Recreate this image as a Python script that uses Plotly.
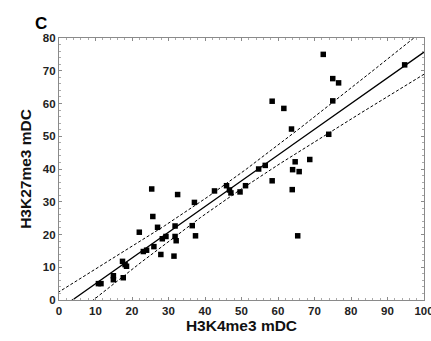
import numpy as np
import plotly.graph_objects as go

# H3K4me3 mDC (x) and H3K27me3 mDC (y)
h3k4me3 = [10.8, 11.5, 14.9, 14.9, 17.6, 17.4, 18.1, 18.5, 22.0, 23.1,
           24.0, 26.0, 27.0, 27.9, 28.3, 29.3, 31.5, 31.8, 31.8, 32.1,
           36.5, 37.4, 65.4, 25.4, 25.7, 32.5, 37.1, 42.6, 45.9, 46.7,
           47.1, 49.6, 51.1, 54.7, 56.5, 58.4, 63.7, 63.9, 64.0, 64.7,
           65.8, 68.7, 73.9, 58.4, 61.6, 72.4, 75.0, 75.0, 76.6, 94.7]
h3k27me3 = [5.0, 5.0, 7.4, 6.2, 6.8, 11.8, 10.8, 10.3, 20.7, 14.8,
            15.2, 16.3, 22.2, 13.9, 18.7, 19.4, 13.4, 22.6, 19.4, 18.1,
            22.7, 19.6, 19.6, 33.9, 25.5, 32.2, 29.8, 33.3, 34.9, 33.6,
            32.7, 33.0, 34.9, 40.0, 41.1, 36.4, 52.2, 33.7, 39.8, 42.2,
            39.2, 42.9, 50.6, 60.7, 58.5, 75.0, 67.6, 60.8, 66.3, 71.8]

# regression line as drawn in the picture (intercept, slope)
fit_intercept = -2.9
fit_slope = 0.786

x_ticks = [0, 10, 20, 30, 40, 50, 60, 70, 80, 90, 100]
y_ticks = [0, 10, 20, 30, 40, 50, 60, 70, 80]

x = np.array(h3k4me3)
y = np.array(h3k27me3)
n = len(x)
xs = np.linspace(-5, 105, 300)
fit = fit_intercept + fit_slope * xs
resid = y - (fit_intercept + fit_slope * x)
s = np.sqrt(np.sum(resid ** 2) / (n - 2))
sxx = np.sum((x - x.mean()) ** 2)
t = 2.01
half = t * s * np.sqrt(1.0 / n + (xs - x.mean()) ** 2 / sxx)

fig = go.Figure()
fig.add_trace(go.Scatter(x=xs, y=fit + half, mode="lines",
                         line=dict(color="black", width=1, dash="3px,2px"), hoverinfo="skip"))
fig.add_trace(go.Scatter(x=xs, y=fit - half, mode="lines",
                         line=dict(color="black", width=1, dash="3px,2px"), hoverinfo="skip"))
fig.add_trace(go.Scatter(x=xs, y=fit, mode="lines",
                         line=dict(color="black", width=1.3), hoverinfo="skip"))
fig.add_trace(go.Scatter(x=h3k4me3, y=h3k27me3, mode="markers",
                         marker=dict(symbol="square", size=5.5, color="black"),
                         cliponaxis=False))

font_family = "Liberation Sans, Arial, sans-serif"
axis_common = dict(
    showgrid=False, zeroline=False, showline=True, linecolor="#8a8a8a", linewidth=1.2,
    mirror="ticks", ticks="inside", ticklen=3, tickcolor="#8a8a8a",
    tickfont=dict(family=font_family, size=11.5, color="#222", weight="bold"),
    minor=dict(ticks="inside", ticklen=2, tickcolor="#aaaaaa"),
    ticklabeloverflow="allow",
)
fig.update_xaxes(range=[0, 100], tickvals=x_ticks,
                 minor_dtick=2, **axis_common)
fig.update_yaxes(range=[0, 80], tickvals=y_ticks,
                 minor_dtick=2, **axis_common)
fig.update_xaxes(title=dict(text="<b>H3K4me3 mDC</b>", standoff=4,
                            font=dict(family=font_family, size=15.5, color="#111")))
fig.update_yaxes(title=dict(text="<b>H3K27me3 mDC</b>", standoff=7,
                            font=dict(family=font_family, size=15.5, color="#111")))
fig.update_layout(
    width=431, height=341,
    margin=dict(l=59, r=7, t=38, b=41, autoexpand=False),
    paper_bgcolor="white", plot_bgcolor="white",
    showlegend=False,
    font=dict(family=font_family, color="#111"),
    annotations=[dict(text="<b>C</b>", xref="paper", yref="paper", x=-0.07, y=1.1,
                      xanchor="left", yanchor="top", showarrow=False,
                      font=dict(family=font_family, size=17, color="black"))],
)
fig.write_html("out.html", config={"displayModeBar": False},
               post_script="document.body.style.margin='0px';")
